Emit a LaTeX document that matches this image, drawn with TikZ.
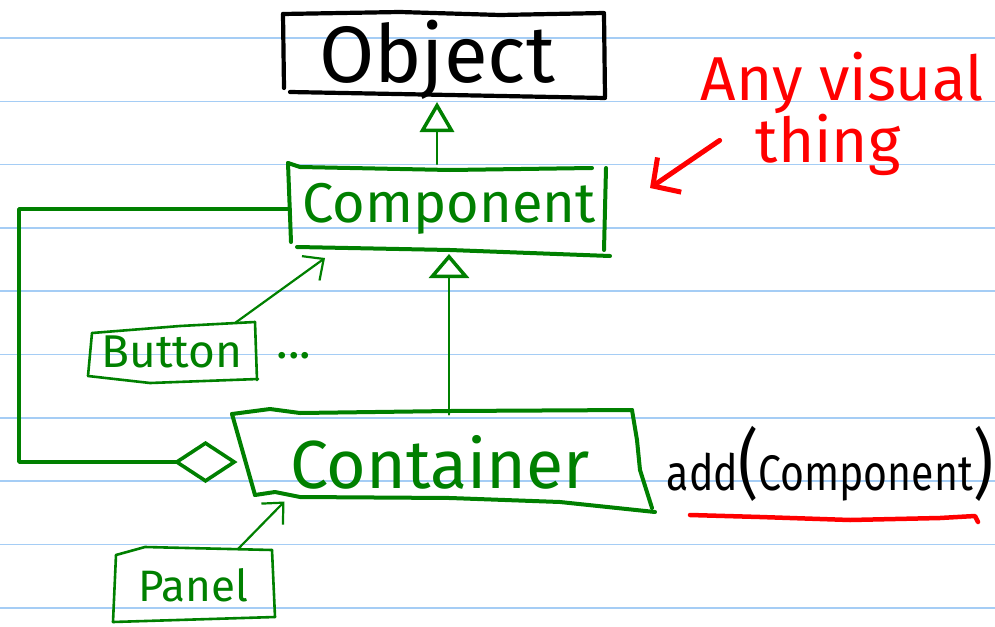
\documentclass[tikz,border=0pt]{standalone}
\usepackage{fontspec}
\setmainfont{Fira Sans}
\usetikzlibrary{arrows.meta}
\definecolor{pen}{RGB}{0,128,0}
\definecolor{ink}{RGB}{0,0,0}
\definecolor{marker}{RGB}{255,0,0}
\definecolor{ruling}{RGB}{165,205,245}
\begin{document}
\begin{tikzpicture}[x=1pt,y=-1pt,
  ruleline/.style={ruling, line width=1.6pt},
  kbox/.style={ink, line width=4.2pt, line cap=round, line join=round},
  gbox/.style={pen, line width=4pt, line cap=round, line join=round},
  gthin/.style={pen, line width=2.6pt, line cap=round, line join=round},
  shaft/.style={pen, line width=2.2pt, line cap=round},
  cls/.style={inner sep=0pt, outer sep=0pt, text=pen},
  redpen/.style={marker, line width=5pt, line cap=round, line join=round},
]
\useasboundingbox (0,0) rectangle (995,626);
\fill[white] (0,0) rectangle (995,626);

% ruled paper
\foreach \k in {0,...,9}
  \draw[ruleline] (0,{38+63.3*\k}) -- (995,{38+63.3*\k});

% class nodes (anchors only; outlines are drawn by hand below)
\node[cls, text=ink, minimum width=322, minimum height=84] (obj) at (437,60)
  {\fontsize{80}{80}\selectfont Object};
\node[cls, minimum width=318, minimum height=90] (comp) at (449,209)
  {\fontsize{56}{56}\selectfont Component};
\node[cls, minimum width=405, minimum height=95] (cont) at (440,462)
  {\fontsize{68}{68}\selectfont Container};
\node[cls, minimum width=168, minimum height=58] (btn) at (172,352)
  {\fontsize{46}{46}\selectfont Button};
\node[cls, minimum width=160, minimum height=72] (pnl) at (193,585)
  {\fontsize{44}{44}\selectfont Panel};
\node[cls, anchor=base] (more) at (294,358) {\fontsize{48}{48}\selectfont ...};

% hand-drawn outlines
\draw[kbox] (283,14) -- (284,88);
\draw[kbox] (283,14) -- (400,12) -- (500,15) -- (604,13);
\draw[kbox] (604,14) -- (605,97);
\draw[kbox] (290,92) -- (450,95) -- (605,98);

\draw[gbox] (288,163) -- (291,242);
\draw[gbox] (288,163) -- (300,167) -- (450,170) -- (592,168);
\draw[gbox] (606,168) -- (604,250);
\draw[gbox] (297,247) -- (450,250) -- (610,256);

\draw[gbox] (232,414) -- (255,495);
\draw[gbox] (232,414) -- (270,409) -- (300,413) -- (450,411) -- (632,410);
\draw[gbox] (632,410) -- (637,440) -- (640,470) -- (652,508);
\draw[gbox] (255,495) -- (275,492) -- (300,497) -- (450,498) -- (560,502) -- (655,512);

\draw[gthin] (92,333) -- (88,376);
\draw[gthin] (92,333) -- (180,326) -- (255,322);
\draw[gthin] (255,322) -- (257,380);
\draw[gthin] (88,376) -- (150,383) -- (258,379);

\draw[gthin] (116,555) -- (113,622);
\draw[gthin] (116,555) -- (145,547) -- (272,550);
\draw[gthin] (272,550) -- (275,617);
\draw[gthin] (113,622) -- (275,617);

% generalization arrows
\draw[shaft, -{Triangle[open, length=30pt, width=34pt, line width=3.5pt]}]
  (comp.north -| obj.south) -- (obj.south);
\draw[shaft, -{Triangle[open, length=24pt, width=40pt, line width=3.5pt]}]
  (cont.north -| comp.south) -- (comp.south);

% aggregation
\draw[gbox, line width=3.6pt, -{Diamond[open, length=64pt, width=42pt, line width=3.6pt]}]
  (comp.west) -- ++(-271,0) |- (cont.west);

% subclass arrows
\draw[shaft, -{Straight Barb[length=16pt, width=30pt]}]
  ([xshift=63pt]btn.north) -- ([shift={(35,4)}]comp.south west);
\draw[shaft, -{Straight Barb[length=16pt, width=30pt]}]
  ([xshift=45pt]pnl.north) -- ([shift={(47,-8)}]cont.south west);

% red note
\node[cls, text=marker, anchor=base] (note) at (842,100)
  {\fontsize{62}{62}\selectfont Any visual};
\node[cls, text=marker, anchor=base] (thing) at (828,162)
  {\fontsize{62}{62}\selectfont thing};
\coordinate (ptr) at (650,188);
\draw[redpen, -{Straight Barb[length=20pt, width=42pt]}]
  ([shift={(-36,-4)}]thing.west) -- (ptr);

% method
\node[cls, text=ink, anchor=base] (addm) at (830,490)
  {\scalebox{0.82}[1]{\fontsize{50}{50}\selectfont add{\fontsize{76}{76}\selectfont(}Component{\fontsize{76}{76}\selectfont)}}};
\draw[redpen, line width=4.5pt] ([shift={(-140,25)}]addm.base)
  -- ++(70,2) -- ++(90,3) -- ++(90,-2) -- ++(35,-2) -- ++(3,6);
\end{tikzpicture}
\end{document}
